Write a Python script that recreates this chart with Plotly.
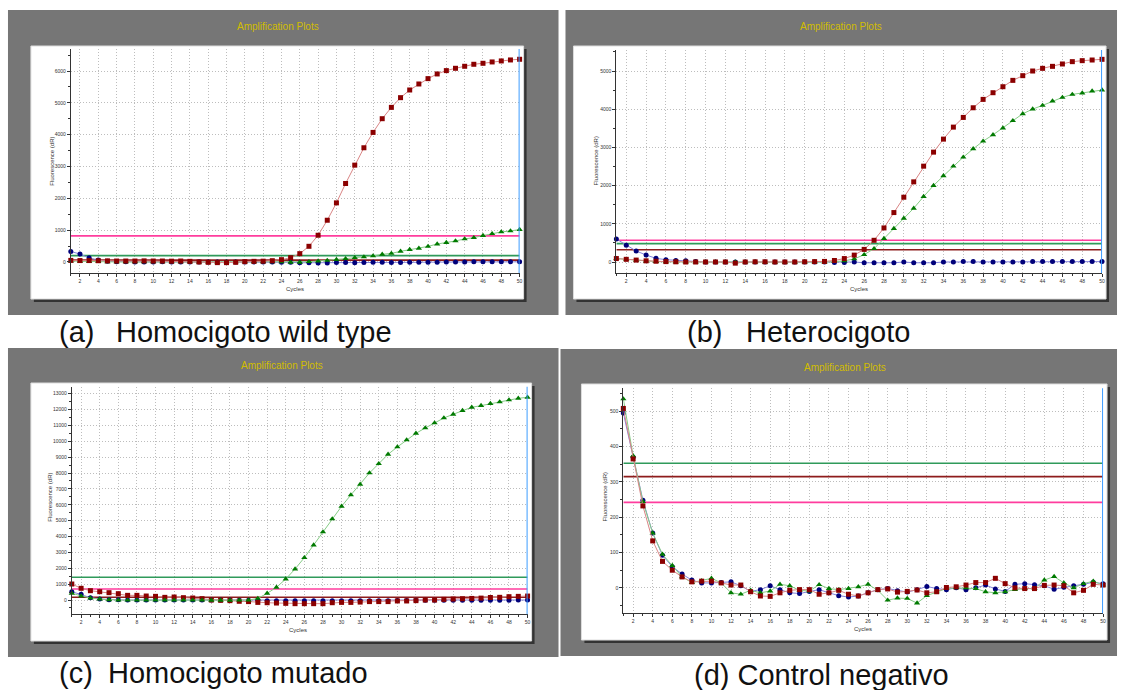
import plotly.graph_objects as go

W, H = 1127, 690

cycles = list(range(1, 51))

# ---------- Panel (a) Homocigoto wild type ----------
red_a = [50, 45, 45, 40, 35, 30, 30, 30, 35, 30, 30, 25, 30, 20, 0, -10, -20, -20, -10, 10,
         20, 25, 40, 73, 136, 262, 493, 840, 1312, 1857, 2466, 3043, 3589, 4071, 4502, 4858,
         5163, 5404, 5593, 5761, 5908, 6013, 6086, 6149, 6212, 6243, 6285, 6317, 6348, 6369]
green_a = [30, 20, 15, 10, 0, 0, 0, 0, 0, 0, 0, 0, 0, 0, -5, -5, -5, 0, 0, 0,
           0, 0, 0, 0, -10, -10, 10, 30, 50, 75, 105, 135, 160, 190, 240, 270,
           335, 390, 430, 490, 565, 610, 660, 725, 765, 830, 890, 945, 975, 1020]
blue_a = [330, 250, 130, 60, 20, 10, 5, 0, 0, 0, 5, 0, 0, 0, 0, 0, 0, 0, 0, 0,
          0, 0, 0, -5, -10, -25, -25, -30, -30, -20, -15, -25, -15, -10, -10, -20,
          -15, -10, -10, -5, -5, 0, 0, 0, 5, 5, 5, 5, 5, 5]
thr_a = {"pink": 820, "green": 200, "brown": 60}

# ---------- Panel (b) Heterocigoto ----------
red_b = [90, 70, 50, 30, 20, 10, 5, 0, 0, 0, 0, 0, -30, 0, 5, 5, 0, 0, 0, 5,
         10, 15, 40, 90, 180, 330, 568, 892, 1294, 1696, 2098, 2509, 2876, 3217, 3531, 3785,
         4038, 4257, 4432, 4589, 4755, 4878, 5000, 5070, 5122, 5184, 5245, 5271, 5288, 5306]
green_b = [90, 70, 40, 25, 10, 5, 0, 0, 0, 0, 0, 0, 0, 0, 0, -10, -10, -10, -10, 0,
           0, 0, 10, 30, 80, 192, 350, 612, 874, 1145, 1407, 1713, 2002, 2255, 2509, 2745,
           2963, 3164, 3330, 3505, 3698, 3881, 4003, 4100, 4213, 4309, 4388, 4423, 4475, 4502]
blue_b = [603, 437, 288, 183, 96, 60, 40, 30, 10, 0, 0, 0, 0, 0, 0, 0, 0, 0, 0, 0,
          0, 0, -10, -10, 0, -20, -20, -20, -20, 0, -20, -20, -20, 0, 0, 10,
          10, 0, 0, 0, 0, 0, 10, 10, 10, 10, 10, 10, 10, 10]
thr_b = {"pink": 568, "green": 480, "brown": 320}

# ---------- Panel (c) Homocigoto mutado ----------
green_c = [420, 250, 120, 60, 10, 0, -10, -10, -10, -10, -10, -10, -10, -10, -10, -20, -20, -20, -10, 0,
           100, 420, 800, 1323, 1954, 2668, 3466, 4286, 5105, 5903, 6618, 7290, 8004, 8592, 9181, 9643,
           10084, 10504, 10840, 11155, 11470, 11702, 11933, 12143, 12248, 12374, 12479, 12605, 12710, 12773]
red_c = [1008, 737, 588, 525, 462, 399, 294, 294, 252, 231, 168, 189, 147, 126, 84, 0, -20, -40, -80, -100,
         -150, -170, -190, -210, -230, -230, -230, -230, -170, -150, -150, -130, -100, -100, -100, -60,
         -60, -40, 0, 0, 40, 60, 80, 100, 120, 160, 170, 210, 230, 250]
blue_c = [525, 357, 150, 60, 20, 10, 0, 0, 0, 0, 0, 0, 0, 0, 0, 0, 0, 0, -20, -20,
          -30, -40, -40, -40, -40, -40, -40, -40, -40, -40, -40, -40, -40, -40, -40, -30,
          -30, -20, -20, -20, -20, -10, -10, -10, -10, -10, -10, -10, 0, 0]
thr_c = {"pink": 693, "green": 1430, "brown": 170}

# ---------- Panel (d) Control negativo ----------
green_d = [535, 374, 244, 155, 95, 63, 31, 15, 20, 27, 14, -14, -18, -7, -14, -9, 10, 6, -7, -9,
           9, -2, -5, -2, 3, 10, -7, -35, -29, -30, -43, -22, -11, -2, 0, 0,
           -2, -11, -14, -11, -5, -2, -2, 22, 32, 14, 0, 12, 19, 8]
red_d = [508, 365, 232, 133, 75, 50, 31, 17, 19, 19, 14, 8, 8, -11, -23, -24, -14, -7, -5, -5,
         -18, -14, -7, -18, -23, -14, -5, -3, -12, -10, -6, -14, -11, 1, 3, 8,
         15, 15, 27, 12, 0, -2, -2, 7, 8, 6, -14, -7, 10, 8]
blue_d = [495, 370, 248, 155, 92, 60, 39, 22, 14, 14, 15, 17, 6, -10, -5, 6, -5, -14, -16, -10,
          -5, -14, -22, -26, -23, -14, -5, -2, -8, -12, -5, 4, -2, -5, 0, -5,
          0, 8, -3, -10, 10, 12, 9, 6, -4, 2, 6, 10, 16, 12]
thr_d = {"pink": 242, "green": 353, "brown": 315}

captions = [("(a)", "Homocigoto wild type"), ("(b)", "Heterocigoto"),
            ("(c)", "Homocigoto mutado"), ("(d) Control negativo", None)]

# ---------- geometry (pixels) ----------
panels = [
    dict(gray=(8, 10, 560, 315), box=(31, 46, 525, 299), xdom=(71, 521), ydom=(49, 273),
         yrange=(-346, 6692), dtick=1000, minor=500, title=(279, 27), ylab=(52, 161), xlab=(296, 289),
         cap=[(57, 332), (114, 332)], data=(red_a, green_a, blue_a), thr=thr_a),
    dict(gray=(567, 10, 1120, 315), box=(575, 46, 1109, 299), xdom=(618, 1105), ydom=(50, 273),
         yrange=(-288, 5550), dtick=1000, minor=500, title=(843, 27), ylab=(598, 161), xlab=(861, 289),
         cap=[(687, 332), (746, 332)], data=(red_b, green_b, blue_b), thr=thr_b),
    dict(gray=(8, 348, 560, 657), box=(31, 383, 533, 641), xdom=(72, 529), ydom=(386.7, 614.3),
         yrange=(-900, 13440), dtick=1000, minor=500, title=(283, 365), ylab=(50, 497), xlab=(299, 630),
         cap=[(57, 673), (106, 673)], data=(red_c, green_c, blue_c), thr=thr_c),
    dict(gray=(562, 349, 1120, 656), box=(583, 384, 1110, 640), xdom=(625, 1106), ydom=(388.3, 613.3),
         yrange=(-72, 565), dtick=100, minor=50, title=(847, 367), ylab=(607, 497), xlab=(865, 629),
         cap=[(694, 675)], data=(red_d, green_d, blue_d), thr=thr_d),
]


def fx(px):
    return px / W


def fy(py):
    return 1 - py / H


fig = go.Figure()
shapes = []
annotations = []

thr_colors = {"pink": "#ff3d9e", "green": "#2f9a5a", "brown": "#8e1c1c"}
series_style = [
    ("#8b0000", "#d98585", "square"),
    ("#007a00", "#86cc86", "triangle-up"),
    ("#00007a", "#8484dc", "circle"),
]
FONT = "Liberation Sans, Arial, sans-serif"
GRID = dict(showgrid=True, gridcolor="#bdbdbd", griddash="1px,2px", gridwidth=1)

for i, p in enumerate(panels):
    n = "" if i == 0 else str(i + 1)
    xa, ya = "x" + n, "y" + n
    gx0, gy0, gx1, gy1 = p["gray"]
    shapes.append(dict(type="rect", xref="paper", yref="paper", x0=fx(gx0), x1=fx(gx1),
                       y0=fy(gy1), y1=fy(gy0), fillcolor="#767676", line=dict(width=0), layer="below"))
    bx0, by0, bx1, by1 = p["box"]
    shapes.append(dict(type="rect", xref="paper", yref="paper", x0=fx(bx0 + 3), x1=fx(bx1 + 3),
                       y0=fy(by1 + 3), y1=fy(by0 + 3), fillcolor="#333333", line=dict(width=0), layer="below"))
    shapes.append(dict(type="rect", xref="paper", yref="paper", x0=fx(bx0), x1=fx(bx1),
                       y0=fy(by1), y1=fy(by0), fillcolor="white", line=dict(width=1, color="#dddddd"),
                       layer="below"))
    fig.layout["xaxis" + n] = dict(
        domain=[fx(p["xdom"][0]), fx(p["xdom"][1])], anchor=ya, range=[1, 50],
        tickmode="linear", tick0=2, dtick=2, ticks="outside", ticklen=3, tickcolor="#333",
        showline=True, linecolor="#333", linewidth=1, mirror=False, zeroline=False,
        tickfont=dict(size=5, color="#333", family=FONT),
        minor=dict(dtick=1, tick0=1, ticks="outside", ticklen=2, tickcolor="#333", showgrid=False),
        **GRID,
    )
    fig.layout["yaxis" + n] = dict(
        domain=[fy(p["ydom"][1]), fy(p["ydom"][0])], anchor=xa, range=list(p["yrange"]),
        tickmode="linear", tick0=0, dtick=p["dtick"], ticks="outside", ticklen=3, tickcolor="#333",
        tickformat="d",
        showline=True, linecolor="#333", linewidth=1, zeroline=False,
        tickfont=dict(size=5, color="#333", family=FONT),
        minor=dict(dtick=p["minor"], tick0=0, ticks="outside", ticklen=2, tickcolor="#333", showgrid=False),
        **GRID,
    )
    for key in ("brown", "green", "pink"):
        fig.add_trace(go.Scatter(x=[1, 50], y=[p["thr"][key]] * 2, mode="lines", xaxis=xa, yaxis=ya,
                                 line=dict(color=thr_colors[key], width=1.6), showlegend=False,
                                 hoverinfo="skip", cliponaxis=False))
    order = [2, 1, 0] if i != 2 else [2, 0, 1]
    for k in order:
        mc, lc, sym = series_style[k]
        fig.add_trace(go.Scatter(x=cycles, y=p["data"][k], mode="lines+markers", xaxis=xa, yaxis=ya,
                                 line=dict(color=lc, width=1),
                                 marker=dict(color=mc, size=5 if sym != "triangle-up" else 5.5, symbol=sym),
                                 showlegend=False, cliponaxis=False))
    shapes.append(dict(type="line", xref=xa, yref=ya + " domain", x0=50, x1=50, y0=0, y1=1,
                       line=dict(color="#3d9cff", width=2)))
    annotations.append(dict(text="Amplification Plots", xref="paper", yref="paper",
                            x=fx(p["title"][0]), y=fy(p["title"][1]), showarrow=False,
                            font=dict(size=10, color="#d2bd00", family=FONT), xanchor="center", yanchor="middle"))
    annotations.append(dict(text="Fluorescence (dR)", xref="paper", yref="paper",
                            x=fx(p["ylab"][0]), y=fy(p["ylab"][1]), showarrow=False, textangle=-90,
                            font=dict(size=6, color="#333", family=FONT), xanchor="center", yanchor="middle"))
    annotations.append(dict(text="Cycles", xref="paper", yref="paper",
                            x=fx(p["xlab"][0]), y=fy(p["xlab"][1]), showarrow=False,
                            font=dict(size=6, color="#333", family=FONT), xanchor="center", yanchor="middle"))
    for j, txt in enumerate([t for t in captions[i] if t]):
        cx, cy = p["cap"][j]
        annotations.append(dict(text=txt, xref="paper", yref="paper", x=fx(cx), y=fy(cy),
                                showarrow=False, font=dict(size=29, color="#111", family=FONT),
                                xanchor="left", yanchor="middle"))

fig.update_layout(width=W, height=H, margin=dict(l=0, r=0, t=0, b=0),
                  paper_bgcolor="white", plot_bgcolor="rgba(0,0,0,0)",
                  shapes=shapes, annotations=annotations, showlegend=False)

fig.write_html("out.html", config={"displayModeBar": False},
               post_script="document.body.style.margin='0';document.body.style.padding='0';"
                           "document.body.style.overflow='hidden';")
